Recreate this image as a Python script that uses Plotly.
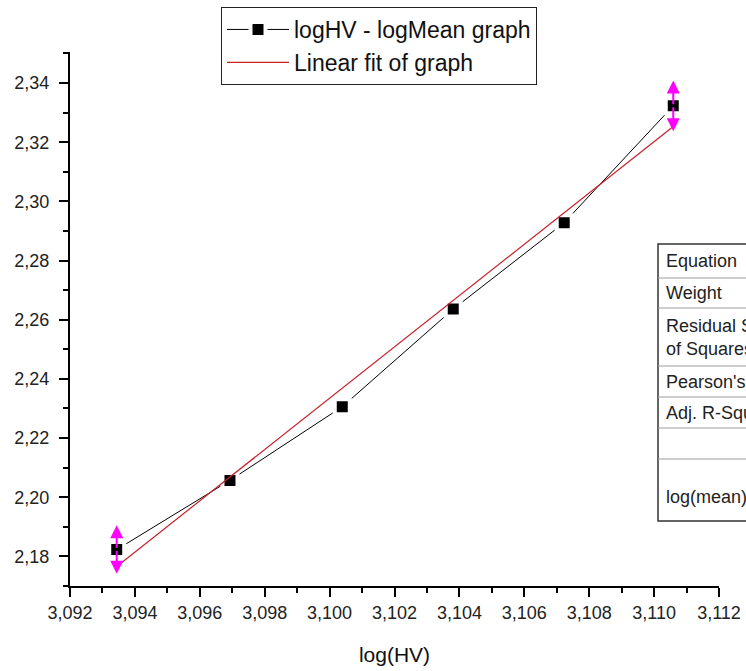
import plotly.graph_objects as go

# ---------------- data ----------------
log_hv = [3.09344, 3.09693, 3.10039, 3.10381, 3.10723, 3.11059]
log_mean = [2.1823, 2.2057, 2.2306, 2.2636, 2.2928, 2.3323]

fit_x = [3.09344, 3.11059]
fit_y = [2.1766, 2.3253]

arrow_idx = [0, 5]
arrow_half = [0.0082, 0.0086]

x_tickvals = [3.092, 3.094, 3.096, 3.098, 3.100, 3.102, 3.104, 3.106, 3.108, 3.110, 3.112]
y_tickvals = [2.18, 2.20, 2.22, 2.24, 2.26, 2.28, 2.30, 2.32, 2.34]

table_labels = ["Equation", "Weight", "Residual Sum<br>of Squares", "Pearson's r",
                "Adj. R-Square", "", "log(mean)"]

# ---------------- layout helpers (page pixel -> paper) ----------------
W, H = 746, 671
L, R, T, B = 70, 719, 52, 586   # plot area in page pixels


def px_x(p):
    return (p - L) / (R - L)


def px_y(p):
    return (B - p) / (B - T)


FONT = "Liberation Sans, Arial, sans-serif"

fig = go.Figure()

fig.add_trace(go.Scatter(
    x=log_hv, y=log_mean, mode="lines+markers", name="logHV - logMean graph",
    line=dict(color="black", width=1),
    marker=dict(symbol="square", size=15, color="black",
                line=dict(color="white", width=4)),
))

fig.add_trace(go.Scatter(
    x=fit_x, y=fit_y, mode="lines", name="Linear fit of graph",
    line=dict(color="#C8202A", width=1.2),
))

# magenta double arrows
for i, h in zip(arrow_idx, arrow_half):
    xv, yv = log_hv[i], log_mean[i]
    for sgn in (1, -1):
        fig.add_annotation(
            x=xv, y=yv + sgn * h, ax=xv, ay=yv,
            xref="x", yref="y", axref="x", ayref="y",
            showarrow=True, arrowhead=2, arrowsize=1.3, arrowwidth=2,
            arrowcolor="#FF00FF", text="",
        )

# table on the right (clipped by the figure edge)
row_edges = [244, 278, 308, 366, 397, 428, 459, 521]
fig.add_shape(type="rect", xref="paper", yref="paper",
              x0=px_x(658), x1=px_x(790), y0=px_y(row_edges[-1]), y1=px_y(row_edges[0]),
              line=dict(color="#333333", width=1.5), fillcolor="white", layer="above")
for e in row_edges[1:-1]:
    fig.add_shape(type="line", xref="paper", yref="paper",
                  x0=px_x(658), x1=px_x(790), y0=px_y(e), y1=px_y(e),
                  line=dict(color="#9a9a9a", width=1), layer="above")
for k, lab in enumerate(table_labels):
    if not lab:
        continue
    top, bot = row_edges[k], row_edges[k + 1]
    yc = (top + bot) / 2
    if lab == "log(mean)":
        yc = top + 0.62 * (bot - top)
    fig.add_annotation(
        x=px_x(664), y=px_y(yc), xref="paper", yref="paper",
        xanchor="left", yanchor="middle", align="left", showarrow=False,
        text=lab, font=dict(family=FONT, size=18, color="#222222"),
    )

fig.update_layout(
    width=W, height=H,
    margin=dict(l=L, r=W - R, t=T, b=H - B, autoexpand=False),
    plot_bgcolor="white", paper_bgcolor="white",
    separators=", ",
    font=dict(family=FONT, size=18, color="#222222"),
    showlegend=True,
    legend=dict(
        x=px_x(221), y=px_y(7), xanchor="left", yanchor="top",
        bgcolor="white", bordercolor="#222222", borderwidth=1,
        font=dict(family=FONT, size=23, color="#111111"),
        tracegroupgap=0, itemwidth=62,
    ),
)

fig.update_xaxes(
    range=[3.092, 3.112], tickvals=x_tickvals, tickformat=".3f",
    showgrid=False, zeroline=False,
    showline=True, linecolor="black", linewidth=2, mirror=False,
    ticks="outside", ticklen=9, tickwidth=2, tickcolor="black",
    ticklabelstandoff=0,
    minor=dict(ticks="outside", ticklen=5, tickwidth=2, tickcolor="black", dtick=0.001),
    tickfont=dict(family=FONT, size=18, color="#222222"),
    title=dict(text="log(HV)", font=dict(family=FONT, size=21, color="#111111"), standoff=26),
    automargin=False,
)
fig.update_yaxes(
    range=[2.17, 2.3505], tickvals=y_tickvals, tickformat=".2f",
    showgrid=False, zeroline=False,
    showline=True, linecolor="black", linewidth=2, mirror=False,
    ticks="outside", ticklen=9, tickwidth=2, tickcolor="black",
    ticklabelstandoff=6,
    minor=dict(ticks="outside", ticklen=5, tickwidth=2, tickcolor="black", dtick=0.01),
    tickfont=dict(family=FONT, size=18, color="#222222"),
    automargin=False,
)

fig.write_html(
    "out.html",
    config={"displayModeBar": False},
    post_script="document.body.style.margin='0';document.body.style.overflow='hidden';",
)
